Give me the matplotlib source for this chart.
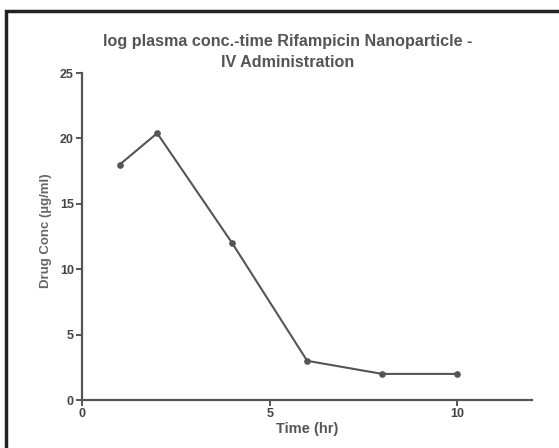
import matplotlib
matplotlib.use("Agg")
import matplotlib.pyplot as plt
from matplotlib.patches import Rectangle

plt.rcParams['font.family'] = ['Liberation Sans', 'DejaVu Sans']
plt.rcParams['font.weight'] = 'bold'

# data
time_hr = [1, 2, 4, 6, 8, 10]
conc = [18, 20.4, 12, 3, 2, 2]

grey = '#555555'

fig = plt.figure(figsize=(5.59, 4.48), dpi=100)
ax = fig.add_axes([0.147, 0.107, 0.805, 0.730])

ax.plot(time_hr, conc, color=grey, lw=1.5, marker='o', ms=3.8)

ax.set_xlim(0, 12)
ax.set_ylim(0, 25)
ax.set_xticks([0, 5, 10])
ax.set_yticks([0, 5, 10, 15, 20, 25])

for s in ['top', 'right']:
    ax.spines[s].set_visible(False)
for s in ['left', 'bottom']:
    ax.spines[s].set_color(grey)
    ax.spines[s].set_linewidth(1.6)

ax.tick_params(colors=grey, labelcolor='#444444', width=1.4, length=4,
               labelsize=9, pad=2)
for lab in ax.get_xticklabels() + ax.get_yticklabels():
    lab.set_fontweight('bold')

ax.set_xlabel('Time (hr)', fontsize=10.5, fontweight='bold', color='#555555', labelpad=1)
ax.set_ylabel('Drug Conc (µg/ml)', fontsize=9.5, fontweight='bold', color='#666666',
              va='center')
ax.yaxis.set_label_coords(-0.08, 0.517)

# title sits a little left of the axes centre
fig.text(288 / 559, 1 - 52 / 448,
         'log plasma conc.-time Rifampicin Nanoparticle -\nIV Administration',
         ha='center', va='center', fontsize=11.6, fontweight='bold',
         color='#555555', linespacing=1.45)

# outer frame (cropped at right and bottom)
fig.patches.append(Rectangle((6 / 559, -0.1), 1.2, 1 - 11 / 448 + 0.1,
                             transform=fig.transFigure, fill=False,
                             edgecolor='#222222', lw=2.5))

fig.savefig('out.png', dpi=100)
